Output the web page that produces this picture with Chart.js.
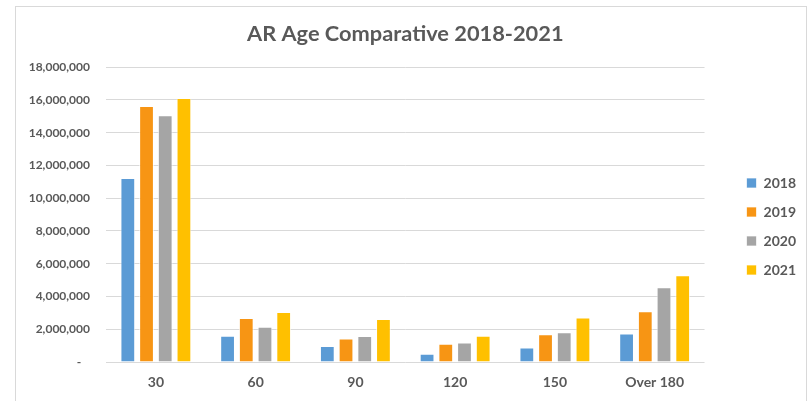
<!DOCTYPE html>
<html>
<head>
<meta charset="utf-8">
<script src="https://cdn.jsdelivr.net/npm/chart.js@4"></script>
<style>
    body { margin: 0; background: #fff; }
    #wrap { position: relative; width: 810px; height: 401px; overflow: hidden; }
    #frame { position: absolute; left: 15px; top: 6px; width: 792px; height: 420px; border: 1.5px solid #d9d9d9; box-sizing: border-box; }
    #chart { position: absolute; left: 0; top: 0; }
</style>
</head>
<body>
<div id="wrap">
    <div id="frame"></div>
    <canvas id="chart" width="810" height="401"></canvas>
</div>
<script>
// data
const ageBuckets = ['30', '60', '90', '120', '150', 'Over 180'];
const years = ['2018', '2019', '2020', '2021'];
const ar2018 = [11230000, 1600000, 970000, 500000, 890000, 1740000];
const ar2019 = [15630000, 2680000, 1440000, 1110000, 1700000, 3100000];
const ar2020 = [15060000, 2150000, 1580000, 1190000, 1820000, 4560000];
const ar2021 = [16110000, 3060000, 2630000, 1600000, 2710000, 5290000];
const yTickLabels = ['-   ', '2,000,000', '4,000,000', '6,000,000', '8,000,000', '10,000,000',
    '12,000,000', '14,000,000', '16,000,000', '18,000,000'];

const colours = ['#5B9BD5', '#F79514', '#A5A5A5', '#FFC000'];
const textGrey = '#595959';

// every label on this chart is bold grey Lato
Chart.defaults.font.family = 'Lato';
Chart.defaults.font.weight = 'bold';
Chart.defaults.color = textGrey;

let seriesValues = [ar2018, ar2019, ar2020, ar2021];
let datasets = years.map((yr, i) => ({
    label: yr,
    data: seriesValues[i],
    backgroundColor: colours[i],
    borderColor: 'rgba(255,255,255,0.7)',
    borderWidth: 1,
    categoryPercentage: 0.75,
    barPercentage: 0.79
}));

new Chart(document.getElementById('chart'), {
    type: 'bar',
    data: { labels: ageBuckets, datasets: datasets },
    options: {
        responsive: false,
        animation: false,
        layout: { padding: { left: 29, right: 4, top: 8, bottom: 0 } },
        plugins: {
            title: {
                display: true,
                fullSize: false, // centre over the plot, not the whole canvas
                // \u200C stops Lato from joining "ti" into a ligature
                text: 'AR Age Compara\u200Ctive 2018-2021',
                color: textGrey,
                font: { size: 21.8, weight: 'bold' },
                padding: { top: 13, bottom: 20 }
            },
            legend: {
                position: 'right',
                // empty legend title just pushes the items down a bit
                title: { display: true, text: '', font: { size: 1 }, padding: { top: 42.8, bottom: 0 } },
                labels: {
                    color: textGrey,
                    font: { size: 14, weight: 'bold' },
                    boxWidth: 10,
                    boxHeight: 10,
                    padding: 15
                }
            },
            tooltip: { enabled: false }
        },
        scales: {
            x: {
                grid: { display: false, drawTicks: false },
                border: { display: false },
                ticks: {
                    color: textGrey,
                    font: { size: 14, weight: 'bold' },
                    padding: 12
                },
                afterFit: (s) => { s.height = 39; }
            },
            y: {
                min: 0,
                max: 18000000,
                grid: { color: '#d9d9d9', lineWidth: 1, drawTicks: false },
                border: { display: false },
                ticks: {
                    stepSize: 2000000,
                    color: textGrey,
                    font: { size: 12, weight: 'bold' },
                    padding: 16,
                    callback: (v, i) => yTickLabels[i]
                },
                afterFit: (s) => { s.width = 77; }
            },
            // empty axis, only keeps a gap between plot and legend
            gap: {
                type: 'linear',
                position: 'right',
                ticks: { display: false },
                grid: { display: false, drawTicks: false },
                border: { display: false },
                afterFit: (s) => { s.width = 27; }
            }
        }
    }
});
</script>
</body>
</html>
